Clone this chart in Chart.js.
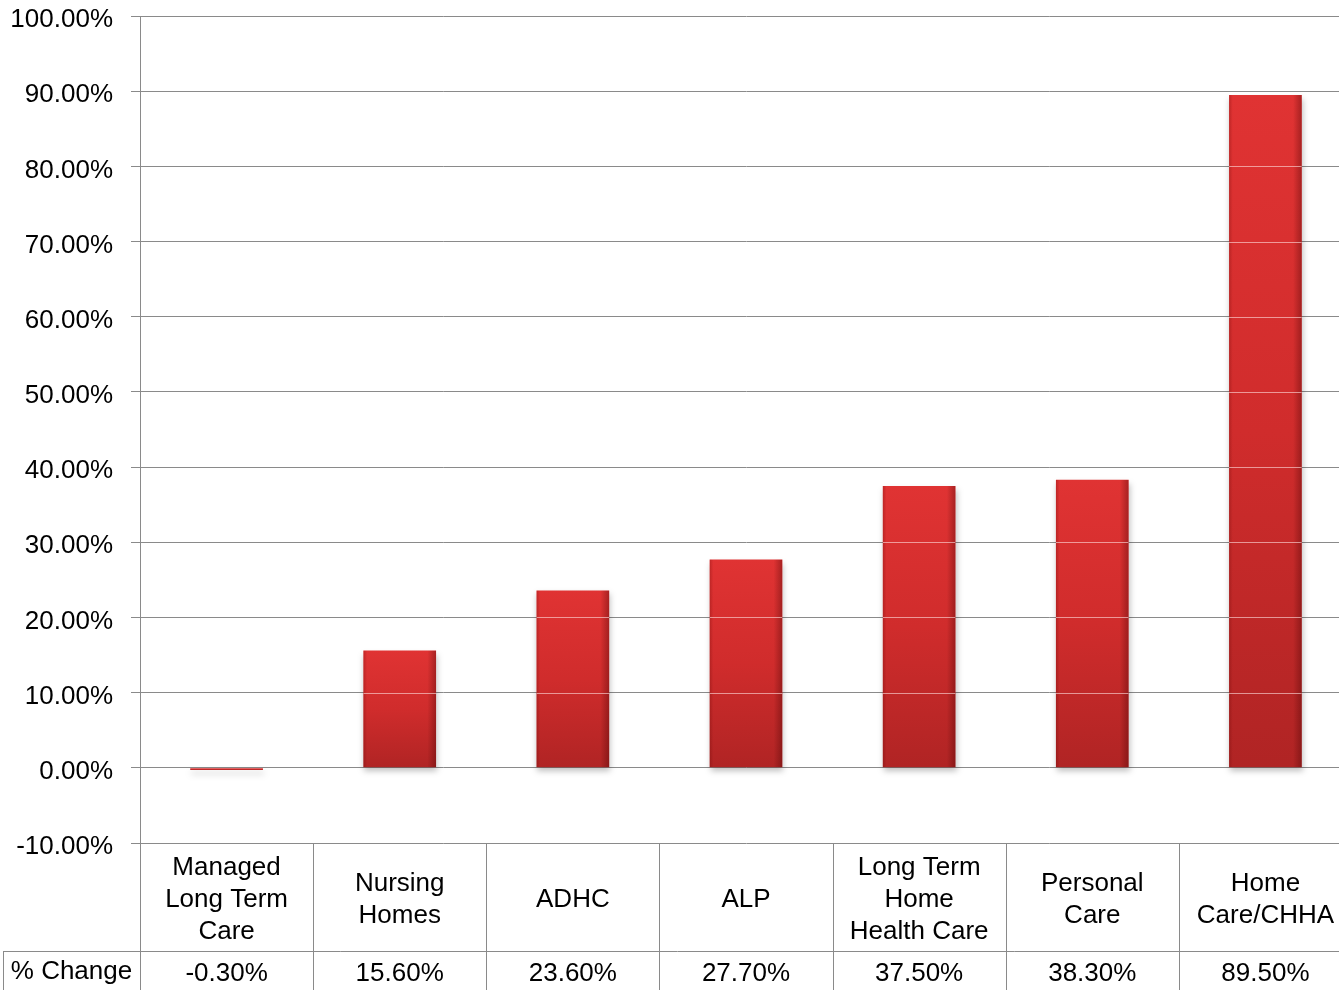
<!DOCTYPE html>
<html>
<head>
<meta charset="utf-8">
<script src="https://cdn.jsdelivr.net/npm/chart.js@4"></script>
<style>
  html, body { margin: 0; padding: 0; background: #fff; overflow: hidden; }
  canvas { display: block; }
</style>
</head>
<body>
<canvas id="chart" width="1352" height="990"></canvas>
<script>
'use strict';

// Categories (table header cells, one array of lines per column)
const categories = [
  ['Managed', 'Long Term', 'Care'],
  ['Nursing', 'Homes'],
  ['ADHC'],
  ['ALP'],
  ['Long Term', 'Home', 'Health Care'],
  ['Personal', 'Care'],
  ['Home', 'Care/CHHA'],
];
// % change per category
const pctChange = [-0.3, 15.6, 23.6, 27.7, 37.5, 38.3, 89.5];
const rowLabel = '% Change';
const yMin = -10;
const yMax = 100;
const yStep = 10;

const FONT = "'Liberation Sans', Arial, sans-serif";
const LINE = '#8a8a8a';
const BAR_FRACTION = 0.42;

// vertical gradient per bar: bright red on top, darker toward the base
function barGradient(context) {
  const chart = context.chart;
  const ys = chart.scales.y;
  if (!chart.chartArea || !ys) return '#d23232';
  const v = context.raw;
  const top = ys.getPixelForValue(Math.max(v, 0));
  const base = ys.getPixelForValue(Math.min(v, 0));
  const g = chart.ctx.createLinearGradient(0, top, 0, Math.max(base, top + 1));
  g.addColorStop(0, '#e03333');
  g.addColorStop(0.5, '#d02c2c');
  g.addColorStop(1, '#b02424');
  return g;
}

// soft shadow under the bars, edge shading and light grid lines across them
const barDecor = {
  id: 'barDecor',
  beforeDatasetsDraw(chart) {
    const ctx = chart.ctx;
    ctx.save();
    ctx.shadowColor = 'rgba(0,0,0,0.25)';
    ctx.shadowBlur = 6;
    ctx.shadowOffsetX = 1;
    ctx.shadowOffsetY = 4;
  },
  afterDatasetsDraw(chart) {
    const ctx = chart.ctx;
    ctx.restore();
    const ys = chart.scales.y;
    const meta = chart.getDatasetMeta(0);
    meta.data.forEach(bar => {
      const left = bar.x - bar.width / 2;
      const right = bar.x + bar.width / 2;
      const top = Math.min(bar.y, bar.base);
      const bottom = Math.max(bar.y, bar.base);
      if (bottom - top < 2) return;
      ctx.save();
      ctx.beginPath();
      ctx.rect(left, top, right - left, bottom - top);
      ctx.clip();
      const g = ctx.createLinearGradient(left, 0, right, 0);
      g.addColorStop(0, 'rgba(90,0,0,0.25)');
      g.addColorStop(0.05, 'rgba(90,0,0,0)');
      g.addColorStop(0.88, 'rgba(60,0,0,0)');
      g.addColorStop(1, 'rgba(60,0,0,0.35)');
      ctx.fillStyle = g;
      ctx.fillRect(left, top, right - left, bottom - top);
      ctx.strokeStyle = 'rgba(255,225,225,0.6)';
      ctx.lineWidth = 1;
      ctx.beginPath();
      ys.ticks.forEach(t => {
        const y = Math.round(ys.getPixelForValue(t.value)) + 0.5;
        if (y > top + 2 && y < bottom - 2) {
          ctx.moveTo(left, y);
          ctx.lineTo(right, y);
        }
      });
      ctx.stroke();
      ctx.restore();
    });
  },
};

// data table below the plot
const dataTable = {
  id: 'dataTable',
  afterDraw(chart) {
    const ctx = chart.ctx;
    const xs = chart.scales.x;
    const area = chart.chartArea;
    const top = area.bottom;
    const mid = top + 108;
    const bottom = chart.height;
    const n = categories.length;

    ctx.save();
    ctx.strokeStyle = LINE;
    ctx.lineWidth = 1;
    ctx.beginPath();
    for (let i = 0; i <= n; i++) {
      const x = Math.round(xs.getPixelForValue(i - 0.5)) + 0.5;
      ctx.moveTo(x, top);
      ctx.lineTo(x, bottom);
    }
    ctx.moveTo(3, mid + 0.5);
    ctx.lineTo(chart.width, mid + 0.5);
    ctx.moveTo(3.5, mid);
    ctx.lineTo(3.5, bottom);
    ctx.stroke();

    ctx.fillStyle = '#000';
    ctx.font = '26px ' + FONT;
    ctx.textAlign = 'center';
    ctx.textBaseline = 'middle';
    const lh = 32;
    const headCenter = (top + mid) / 2 + 3;
    categories.forEach((lines, i) => {
      const cx = xs.getPixelForValue(i);
      const y0 = headCenter - (lines.length - 1) * lh / 2;
      lines.forEach((t, j) => ctx.fillText(t, cx, y0 + j * lh));
      ctx.fillText(pctChange[i].toFixed(2) + '%', cx, mid + 23);
    });
    const lx0 = Math.round(xs.getPixelForValue(-0.5));
    ctx.fillText(rowLabel, (3 + lx0) / 2, mid + 21);
    ctx.restore();
  },
};

new Chart(document.getElementById('chart'), {
  type: 'bar',
  data: {
    labels: categories.map(c => c.join(' ')),
    datasets: [{
      label: rowLabel,
      data: pctChange,
      backgroundColor: barGradient,
      borderWidth: 0,
      categoryPercentage: 1.0,
      barPercentage: BAR_FRACTION,
    }],
  },
  options: {
    responsive: false,
    devicePixelRatio: 1,
    animation: false,
    layout: { padding: { top: 16, bottom: 147, left: 0, right: 0 } },
    plugins: {
      legend: { display: false },
      tooltip: { enabled: false },
    },
    scales: {
      x: { display: false },
      y: {
        min: yMin,
        max: yMax,
        afterFit(scale) {
          scale.width = 140;
          scale.paddingTop = 0;
          scale.paddingBottom = 0;
        },
        ticks: {
          stepSize: yStep,
          padding: 18,
          labelOffset: 4,
          color: '#000',
          font: { family: FONT, size: 26 },
          callback: v => v.toFixed(2) + '%',
        },
        grid: { color: LINE, lineWidth: 1, tickLength: 9 },
        border: { display: true, color: LINE, width: 1 },
      },
    },
  },
  plugins: [barDecor, dataTable],
});
</script>
</body>
</html>
